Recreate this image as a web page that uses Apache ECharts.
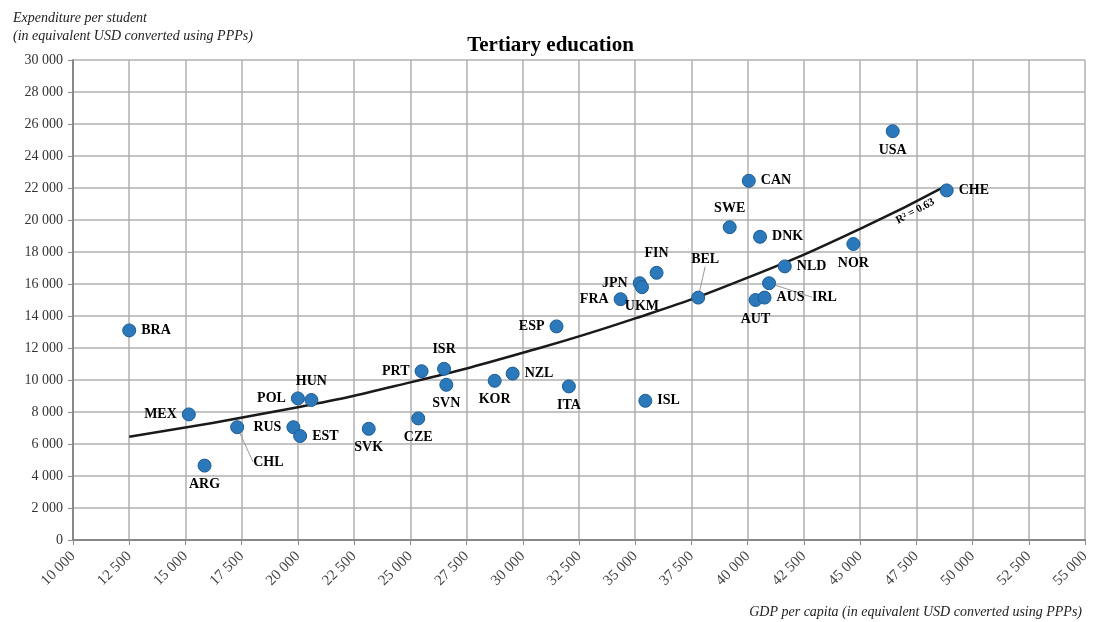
<!DOCTYPE html>
<html>
<head>
<meta charset="UTF-8">
<title>Tertiary education</title>
<style>
  * { margin: 0; padding: 0; }
  html, body { width: 100%; height: 100%; background: #fff; }
  #chart { width: 1101px; height: 622px; }
</style>
</head>
<body>
<div id="chart"></div>
<script src="https://cdn.jsdelivr.net/npm/echarts@6/dist/echarts.min.js"></script>
<script>
// data
var countries = ['BRA', 'MEX', 'ARG', 'CHL', 'POL', 'HUN', 'RUS', 'EST', 'SVK', 'CZE', 'PRT', 'ISR', 'SVN', 'KOR', 'NZL', 'ITA', 'ISL',
  'ESP', 'FRA', 'JPN', 'UKM', 'FIN', 'BEL', 'CAN', 'SWE', 'DNK', 'NLD', 'IRL', 'AUT', 'AUS', 'USA', 'NOR', 'CHE'];
var gdp = [12500, 15150, 15850, 17300, 20000, 20600, 19800, 20100, 23150, 25350, 25500, 26500, 26600, 28750, 29550, 32050, 35450,
  31500, 34350, 35200, 35300, 35950, 37800, 40050, 39200, 40550, 41650, 40950, 40350, 40750, 46450, 44700, 48850];
var spend = [13100, 7850, 4650, 7050, 8850, 8750, 7050, 6500, 6950, 7600, 10550, 10700, 9700, 9950, 10400, 9600, 8700,
  13350, 15050, 16050, 15800, 16700, 15150, 22450, 19550, 18950, 17100, 16050, 15000, 15150, 25550, 18500, 21850];

// trend curve, points
var trendGdp = [12500, 20000, 25000, 30000, 35000, 40000, 45000, 48900];
var trendSpend = [6450, 8300, 9850, 11700, 13850, 16400, 19450, 22200];
var r2Text = 'R² = 0.63';

// where each label sits: [position, dx, dy]
var labelAt = {
  BRA: ['right', 0, 0], MEX: ['left', 2, -7], ARG: ['bottom', 0, 4], CHL: ['right', 0, 0],
  POL: ['left', 0, -3], HUN: ['top', 11, 0], RUS: ['left', 2, 3], EST: ['right', -4, 1],
  SVK: ['bottom', 9, 0], CZE: ['bottom', 10, -2], PRT: ['left', 4, -4], ISR: ['top', 3, 4],
  SVN: ['bottom', 0, 0], KOR: ['bottom', 2, 1], NZL: ['right', -3, -2], ITA: ['bottom', -2, -2],
  ISL: ['right', -3, 0], ESP: ['left', 2, -2], FRA: ['left', 1, 1], JPN: ['left', 4, -8],
  UKM: ['bottom', 14, -4], FIN: ['top', -2, 0], BEL: ['top', 0, 0], CAN: ['right', 0, -1],
  SWE: ['top', -2, 2], DNK: ['right', 0, -4], NLD: ['right', 0, 6], IRL: ['right', 0, 0],
  AUT: ['bottom', -11, -2], AUS: ['right', -3, 7], USA: ['bottom', 0, -1], NOR: ['bottom', 2, -1],
  CHE: ['right', 0, 0]
};
// labels pulled away with a leader line
var leaders = { CHL: [4, 35], BEL: [7, -19], IRL: [31, 14] };

var serif = '"Liberation Serif", "DejaVu Serif", serif';

function fmt(v) {
  return String(v).replace(/\B(?=(\d{3})+(?!\d))/g, ' ');
}

var points = countries.map(function (c, i) {
  var p = labelAt[c];
  var item = {
    name: c,
    value: [gdp[i], spend[i]],
    label: { position: p[0], offset: [p[1], p[2]] }
  };
  if (leaders[c]) {
    item.labelLine = { show: true, lineStyle: { color: '#999', width: 1 } };
  }
  return item;
});

var chart = echarts.init(document.getElementById('chart'));

chart.setOption({
  animation: false,
  title: [
    {
      text: 'Tertiary education',
      left: 'center', top: 30,
      textStyle: { fontFamily: serif, fontSize: 21, fontWeight: 'bold', color: '#000' }
    },
    {
      text: 'Expenditure per student\n(in equivalent USD converted using PPPs)',
      left: 8, top: 4,
      textStyle: { fontFamily: serif, fontSize: 14, fontStyle: 'italic', fontWeight: 'normal', color: '#222', lineHeight: 18 }
    },
    {
      text: 'GDP per capita (in equivalent USD converted using PPPs)',
      right: 14, top: 600,
      textStyle: { fontFamily: serif, fontSize: 14, fontStyle: 'italic', fontWeight: 'normal', color: '#222' }
    }
  ],
  grid: { left: 73, right: 16, top: 60, bottom: 82 },
  xAxis: {
    type: 'value',
    min: 10000, max: 55000, interval: 2500,
    axisLine: { show: true, lineStyle: { color: '#888', width: 2 } },
    axisTick: { show: true, length: 5, lineStyle: { color: '#888' } },
    splitLine: { show: true, lineStyle: { color: '#b0b0b0', width: 1.5 } },
    axisLabel: {
      rotate: 45, margin: 14, fontFamily: serif, fontSize: 15, color: '#444',
      formatter: fmt
    }
  },
  yAxis: {
    type: 'value',
    min: 0, max: 30000, interval: 2000,
    axisLine: { show: true, lineStyle: { color: '#888', width: 2 } },
    axisTick: { show: true, length: 5, lineStyle: { color: '#888' } },
    splitLine: { show: true, lineStyle: { color: '#b0b0b0', width: 1.5 } },
    axisLabel: { margin: 10, fontFamily: serif, fontSize: 14, color: '#333', formatter: fmt }
  },
  series: [
    {
      type: 'line',
      data: trendGdp.map(function (x, i) { return [x, trendSpend[i]]; }),
      smooth: true,
      symbol: 'none',
      lineStyle: { color: '#1a1a1a', width: 2.5 },
      z: 3,
      markPoint: {
        symbol: 'circle', symbolSize: 0,
        data: [{ coord: [47450, 20550] }],
        label: {
          show: true, formatter: r2Text, rotate: 28, position: 'inside',
          fontFamily: serif, fontSize: 11, fontWeight: 'bold', color: '#000'
        }
      }
    },
    {
      type: 'scatter',
      data: points,
      symbolSize: 13,
      itemStyle: { color: '#2b78bb', borderColor: '#1d5d92', borderWidth: 1, opacity: 1 },
      z: 4,
      label: {
        show: true,
        formatter: '{b}',
        fontFamily: serif, fontSize: 14, fontWeight: 'bold', color: '#000'
      },
      labelLayout: function (p) {
        var l = leaders[countries[p.dataIndex]];
        return l ? { dx: l[0], dy: l[1] } : {};
      }
    }
  ]
});
</script>
</body>
</html>
